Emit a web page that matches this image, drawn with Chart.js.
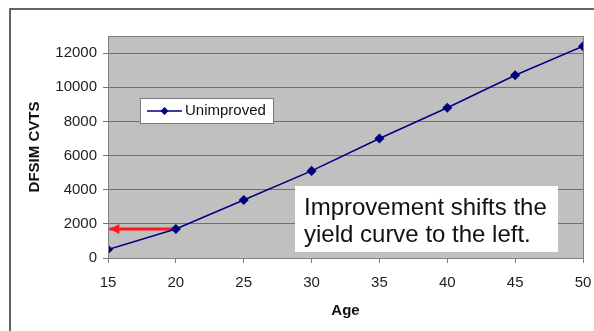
<!DOCTYPE html>
<html>
<head>
<meta charset="utf-8">
<script src="https://cdn.jsdelivr.net/npm/chart.js@4"></script>
<style>
  html, body { margin:0; padding:0; background:#fff; }
  #c { display:block; }
</style>
</head>
<body>
<canvas id="c" width="594" height="331"></canvas>
<script>
// values
const ages = [15, 20, 25, 30, 35, 40, 45, 50];
const unimproved = [500, 1700, 3400, 5100, 7000, 8800, 10700, 12400];
const arrowAges = [20, 15.1];
const arrowVals = [1700, 1700];
const yTicks = [0, 2000, 4000, 6000, 8000, 10000, 12000];
const seriesName = 'Unimproved';
const noteLines = ['Improvement shifts the', 'yield curve to the left.'];

const FONT = "'Liberation Sans', Arial, sans-serif";

const decor = {
  id: 'decor',
  beforeDraw(chart) {
    const {ctx, chartArea:a} = chart;
    ctx.save();
    ctx.fillStyle = '#c0c0c0';
    ctx.fillRect(a.left, a.top, a.right - a.left, a.bottom - a.top);
    ctx.restore();
  },
  afterDatasetsDraw(chart) {
    const {ctx, chartArea:a, scales:{x, y}} = chart;
    ctx.save();
    // plot border
    ctx.strokeStyle = '#808080';
    ctx.lineWidth = 1;
    ctx.strokeRect(a.left + 0.5, a.top + 0.5, a.right - a.left, a.bottom - a.top);

    // red arrow head
    const n = arrowAges.length - 1;
    const tx = x.getPixelForValue(arrowAges[n]), ty = y.getPixelForValue(arrowVals[n]);
    ctx.fillStyle = '#ff1a1a';
    ctx.beginPath();
    ctx.moveTo(tx, ty);
    ctx.lineTo(tx + 10, ty - 5);
    ctx.lineTo(tx + 10, ty + 5);
    ctx.closePath();
    ctx.fill();

    // legend
    ctx.fillStyle = '#fff';
    ctx.fillRect(140, 98, 133, 25);
    ctx.strokeStyle = '#7a7a7a';
    ctx.strokeRect(140.5, 98.5, 133, 25);
    const ds = chart.data.datasets[0];
    ctx.strokeStyle = ds.borderColor;
    ctx.lineWidth = 1.5;
    ctx.beginPath(); ctx.moveTo(147, 111); ctx.lineTo(182, 111); ctx.stroke();
    ctx.fillStyle = ds.pointBackgroundColor;
    ctx.beginPath();
    ctx.moveTo(164.5, 107); ctx.lineTo(168.5, 111); ctx.lineTo(164.5, 115); ctx.lineTo(160.5, 111);
    ctx.closePath(); ctx.fill();
    ctx.fillStyle = '#111';
    ctx.font = '15px ' + FONT;
    ctx.textBaseline = 'middle';
    ctx.fillText(ds.label, 185, 111);

    // note box
    ctx.fillStyle = '#fff';
    ctx.fillRect(295, 186, 263, 66);
    ctx.fillStyle = '#111';
    ctx.font = '24px ' + FONT;
    ctx.textBaseline = 'alphabetic';
    ctx.fillText(noteLines[0], 304, 215);
    ctx.fillText(noteLines[1], 304, 242);

    // outer frame (left + top only)
    ctx.strokeStyle = '#333';
    ctx.lineWidth = 1.5;
    ctx.beginPath();
    ctx.moveTo(10, 331); ctx.lineTo(10, 9); ctx.lineTo(594, 9);
    ctx.stroke();
    ctx.restore();
  }
};

new Chart(document.getElementById('c'), {
  type: 'line',
  data: {
    datasets: [
      {
        label: seriesName,
        data: ages.map((a, i) => ({x: a, y: unimproved[i]})),
        borderColor: '#000080',
        backgroundColor: '#000080',
        pointBackgroundColor: '#000080',
        pointBorderColor: '#000080',
        borderWidth: 1.5,
        pointStyle: 'rectRot',
        pointRadius: 4,
        tension: 0,
        order: 0
      },
      {
        label: 'shift',
        data: arrowAges.map((a, i) => ({x: a, y: arrowVals[i]})),
        borderColor: '#ff1a1a',
        borderWidth: 3,
        pointRadius: 0,
        tension: 0,
        order: 1
      }
    ]
  },
  options: {
    responsive: false,
    animation: false,
    layout: { padding: { left: 11, right: 11, top: 36, bottom: 0 } },
    plugins: { legend: { display: false }, tooltip: { enabled: false } },
    scales: {
      x: {
        type: 'linear',
        min: 15, max: 50,
        ticks: { stepSize: 5, color: '#222', font: { family: FONT, size: 15 }, padding: 11, maxRotation: 0 },
        grid: { drawOnChartArea: false, tickLength: 5, color: '#808080' },
        border: { color: '#808080' },
        title: { display: true, text: 'Age', color: '#111', font: { family: FONT, size: 15, weight: 'bold' }, padding: { top: 0, bottom: 11 } },
        afterFit: s => { s.height = 73; s.paddingLeft = 0; s.paddingRight = 0; }
      },
      y: {
        min: 0, max: 13000,
        afterBuildTicks: s => { s.ticks = yTicks.map(v => ({value: v})); },
        ticks: { color: '#222', font: { family: FONT, size: 15 }, padding: 6, callback: v => String(v) },
        grid: { color: '#707070', tickLength: 5 },
        border: { color: '#808080' },
        title: { display: true, text: 'DFSIM CVTS', color: '#111', font: { family: FONT, size: 15, weight: 'bold' }, padding: { top: 15, bottom: 0 } },
        afterFit: s => { s.width = 97; s.paddingTop = 0; s.paddingBottom = 0; }
      }
    }
  },
  plugins: [decor]
});
</script>
</body>
</html>
